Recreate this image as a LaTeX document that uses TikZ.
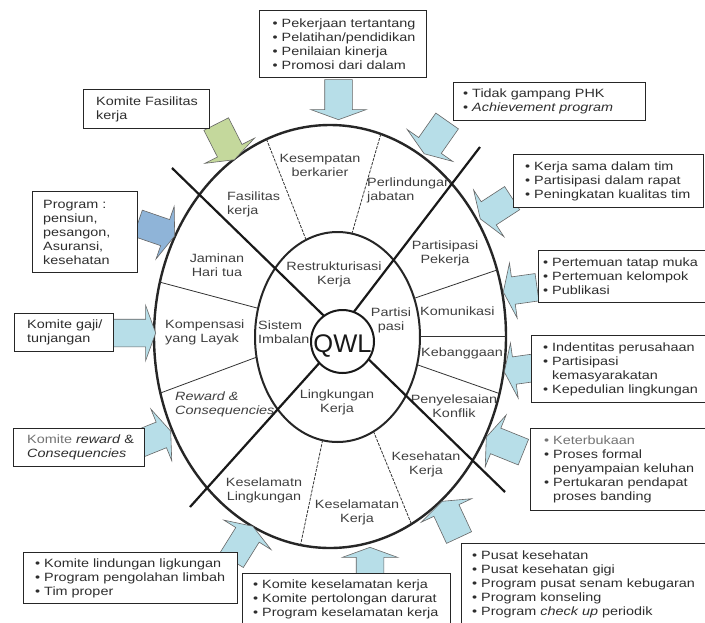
\documentclass[tikz,border=0pt]{standalone}
\usepackage{fontspec}
\setmainfont{Liberation Sans}[FakeStretch=1.2]
\newfontfamily\qwlfont{Liberation Sans}
\usepackage{tikz}
\usetikzlibrary{calc,positioning,shapes.arrows}

\definecolor{arrowblue}{HTML}{B7DEE8}
\definecolor{arrowgreen}{HTML}{C4D89C}
\definecolor{arrowsteel}{HTML}{8FB4D8}
\definecolor{inkgray}{HTML}{2E2E2E}

\tikzset{
  infobox/.style={draw=black!85,line width=1.1pt,fill=white,anchor=north west,inner sep=0pt},
  boxtext/.style={align=left,inner sep=0pt,text=inkgray},
  ringlabel/.style={align=center,inner sep=0pt,text=black!75},
  blockarr/.style={single arrow,draw=black!60,line width=.6pt,fill=arrowblue,
    inner xsep=0pt,inner ysep=13.5pt,single arrow head extend=14pt,
    single arrow tip angle=140,minimum height=40pt,anchor=tip},
  divider/.style={black!80,line width=.8pt},
  crossline/.style={black!90,line width=2.2pt},
}

\begin{document}
\begin{tikzpicture}[x=1pt,y=-1pt,font=\fontsize{12}{14}\selectfont]
    \useasboundingbox (0,0) rectangle (705,622);
    \clip (0,0) rectangle (705,622);
    \fill [white] (0,0) rectangle (705,622);

    \draw [black!85,line width=2.4pt] (330,336.5) ellipse [x radius=176pt,y radius=211.5pt];
    \draw [black!85,line width=2pt] (337.5,337) ellipse [x radius=82.5pt,y radius=105pt];

    \draw [divider,dash pattern=on 3pt off 1.2pt] (266.5,139.2) -- (306.1,239.8);
    \draw [divider,dash pattern=on 3pt off 1.2pt] (380.8,134.1) -- (351.9,233.7);
    \draw [divider,dash pattern=on 3pt off 1.2pt] (322.6,440.2) -- (300.5,545.1);
    \draw [divider,dash pattern=on 3pt off 1.2pt] (373.5,431.4) -- (411.5,524.2);
    \draw [divider] (159.7,282.1) -- (258.1,308.3);
    \draw [divider] (160.2,393.1) -- (256.5,357.2);
    \draw [divider] (414.2,298.3) -- (497,270);
    \draw [divider] (420,336.5) -- (506,336.5);
    \draw [divider] (417.1,364.7) -- (499.6,393.6);

    % outer ring
    \node [ringlabel] (kesempatan) at (320,165) {Kesempatan\\berkarier};
    \node [ringlabel,align=left,anchor=west] (perlindungan) at (367,190.5) {Perlindungan\\jabatan};
    \node [ringlabel,align=left,anchor=west] (fasilitas) at (227,204.5) {Fasilitas\\kerja};
    \node [ringlabel] (jaminan) at (217,265) {Jaminan\\Hari tua};
    \node [ringlabel,align=left,anchor=west] (kompensasi) at (165,332) {Kompensasi\\yang Layak};
    \node [ringlabel,align=left,anchor=west] (reward) at (175,404.5) {\textit{Reward \&}\\\textit{Consequencies}};
    \node [ringlabel] (keselamatn) at (264,490.5) {Keselamatn\\Lingkungan};
    \node [ringlabel] (keselamatan) at (357,512) {Keselamatan\\Kerja};
    \node [ringlabel] (kesehatan) at (426,464) {Kesehatan\\Kerja};
    \node [ringlabel] (penyelesaian) at (454,406.5) {Penyelesaian\\Konflik};
    \node [ringlabel,anchor=west] (kebanggaan) at (421,353) {Kebanggaan};
    \node [ringlabel,anchor=west] (komunikasi) at (420,311) {Komunikasi};
    \node [ringlabel] (partisipasi) at (445,253.5) {Partisipasi\\Pekerja};

    % middle ring
    \node [ringlabel] (restruk) at (334,274.5) {Restrukturisasi\\Kerja};
    \node [ringlabel,align=left,anchor=west] (sistem) at (258,332) {Sistem\\Imbalan};
    \node [ringlabel] (partisi) at (391,320) {Partisi\\pasi};
    \node [ringlabel] (lingkungan) at (337,402.5) {Lingkungan\\Kerja};

    \draw [crossline] (172,168) -- (505,492);
    \draw [crossline] (480,147) -- (340,330);
    \draw [crossline] (190,507) -- (340,340);

    \node [circle,draw=black!90,line width=2pt,fill=white,minimum size=63pt,inner sep=0pt] (qwl) at (342.5,341.5) {};
    \node [font=\qwlfont\fontsize{25.5}{26}\selectfont,text=black!90,inner sep=0pt] (qwlTxt) at ([yshift=-5pt]qwl.center) {QWL};

    % block arrows, placed by their tips
    \node [blockarr,rotate=-90] (toKarier) at (338.5,120) {};
    \node [blockarr,rotate=-63,fill=arrowgreen] (toFasilitas) at (234.5,160) {};
    \node [blockarr,rotate=-125] (toPerlindungan) at (424,154) {};
    \node [blockarr,rotate=-147,minimum height=38pt] (toPartisipasi) at (480,219) {};
    \node [blockarr,rotate=-172,minimum height=34pt] (toKomunikasi) at (503,292) {};
    \node [blockarr,rotate=-172,minimum height=29pt] (toBangga) at (504,372) {};
    \node [blockarr,rotate=158] (toKonflik) at (486,437) {};
    \node [blockarr,rotate=115] (toSehat) at (442,501) {};
    \node [blockarr,rotate=90,minimum height=27pt] (toSelamat) at (370,547) {};
    \node [blockarr,rotate=58] (toLingkungan) at (253,526) {};
    \node [blockarr,rotate=22] (toReward) at (171,431) {};
    \node [blockarr,rotate=0,minimum height=42pt] (toKompensasi) at (156,333) {};
    \node [blockarr,rotate=-19,fill=arrowsteel,minimum height=39pt] (toJaminan) at (175,236) {};

    \node [infobox,minimum width=167pt,minimum height=67pt] (karier) at (259,10) {};
    \node [boxtext,right=13.5pt of karier.west] (karierTxt)
        {• Pekerjaan tertantang\\• Pelatihan/pendidikan\\• Penilaian kinerja\\• Promosi dari dalam};

    \node [infobox,minimum width=126pt,minimum height=39pt] (fasKom) at (83,89) {};
    \node [boxtext,right=13pt of fasKom.west] (fasKomTxt) {Komite Fasilitas\\kerja};

    \node [infobox,minimum width=192pt,minimum height=38pt] (phk) at (453,82) {};
    \node [boxtext,right=10pt of phk.west] (phkTxt) {• Tidak gampang PHK\\• \textit{Achievement program}};

    \node [infobox,minimum width=190pt,minimum height=53pt] (timkerja) at (513,154) {};
    \node [boxtext,right=12pt of timkerja.west] (timkerjaTxt)
        {• Kerja sama dalam tim\\• Partisipasi dalam rapat\\• Peningkatan kualitas tim};

    \node [infobox,minimum width=105pt,minimum height=81pt] (pensiun) at (32,191) {};
    \node [boxtext,right=11pt of pensiun.west] (pensiunTxt)
        {Program :\\pensiun,\\pesangon,\\Asuransi,\\kesehatan};

    \node [infobox,minimum width=172pt,minimum height=52pt] (temu) at (538,250) {};
    \node [boxtext,right=5pt of temu.west] (temuTxt)
        {• Pertemuan tatap muka\\• Pertemuan kelompok\\• Publikasi};

    \node [infobox,minimum width=99pt,minimum height=38pt] (gaji) at (14,313) {};
    \node [boxtext,right=13pt of gaji.west] (gajiTxt) {Komite gaji/\\tunjangan};

    \node [infobox,minimum width=178pt,minimum height=67pt] (identitas) at (531,335) {};
    \node [boxtext,right=12pt of identitas.west] (identitasTxt)
        {• Indentitas perusahaan\\• Partisipasi\\\phantom{• }kemasyarakatan\\• Kepedulian lingkungan};

    \node [infobox,minimum width=131pt,minimum height=38pt] (rewardKom) at (13,428) {};
    \node [boxtext,right=14pt of rewardKom.west] (rewardKomTxt)
        {{\color{black!55}Komite} \textit{reward} \&\\\textit{Consequencies}};

    \node [infobox,minimum width=180pt,minimum height=82pt] (keluhan) at (530,428) {};
    \node [boxtext,right=14pt of keluhan.west] (keluhanTxt)
        {{\color{black!55}• Keterbukaan}\\• Proses formal\\\phantom{• }penyampaian keluhan\\• Pertukaran pendapat\\\phantom{• }proses banding};

    \node [infobox,minimum width=214pt,minimum height=51pt] (limbah) at (23,552) {};
    \node [boxtext,right=12pt of limbah.west] (limbahTxt)
        {• Komite lindungan ligkungan\\• Program pengolahan limbah\\• Tim proper};

    \node [infobox,minimum width=208pt,minimum height=52pt] (darurat) at (242,573) {};
    \node [boxtext,right=11pt of darurat.west] (daruratTxt)
        {• Komite keselamatan kerja\\• Komite pertolongan darurat\\• Program keselamatan kerja};

    \node [infobox,minimum width=250pt,minimum height=82pt] (pusat) at (461,543) {};
    \node [boxtext,right=11pt of pusat.west] (pusatTxt)
        {• Pusat kesehatan\\• Pusat kesehatan gigi\\• Program pusat senam kebugaran\\• Program konseling\\• Program \textit{check up} periodik};
\end{tikzpicture}
\end{document}
